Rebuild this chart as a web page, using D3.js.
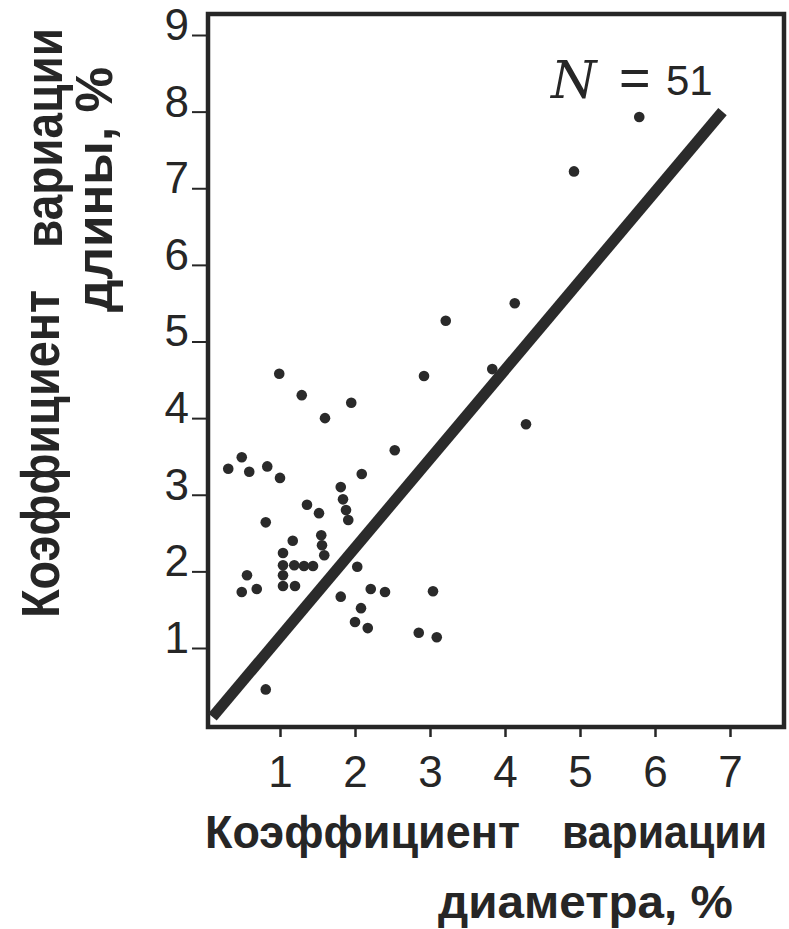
<!DOCTYPE html>
<html>
<head>
  <meta charset="utf-8">
  <script src="https://d3js.org/d3.v7.min.js"></script>
  <style>
    body { margin: 0; background: #fff; }
  </style>
</head>
<body>
  <div id="chart"></div>
  <script>
  // data: CV of diameter (x) vs CV of length (y), %
  var cvDiameter = [5.79, 4.92, 4.13, 3.21, 2.92, 3.83, 4.28, 0.99, 1.29, 1.60,
                    1.95, 2.53, 0.49, 0.31, 0.59, 0.83, 1.00, 2.09, 1.81, 1.84,
                    1.88, 1.91, 1.36, 1.52, 0.81, 1.17, 1.55, 1.56, 1.59, 1.04,
                    1.04, 1.19, 1.32, 1.44, 1.04, 1.04, 1.20, 0.56, 0.49, 0.69,
                    2.03, 2.21, 2.40, 3.04, 1.81, 2.08, 2.00, 2.17, 2.85, 3.09,
                    0.81];
  var cvLength   = [7.93, 7.22, 5.50, 5.27, 4.55, 4.64, 3.92, 4.58, 4.30, 4.00,
                    4.20, 3.58, 3.49, 3.34, 3.30, 3.37, 3.22, 3.27, 3.10, 2.94,
                    2.80, 2.67, 2.87, 2.76, 2.64, 2.40, 2.47, 2.34, 2.21, 2.24,
                    2.08, 2.08, 2.07, 2.07, 1.95, 1.81, 1.81, 1.95, 1.73, 1.77,
                    2.06, 1.77, 1.73, 1.74, 1.67, 1.52, 1.34, 1.26, 1.20, 1.14,
                    0.46];
  var lineX = [0.1, 6.9];
  var lineY = [0.1, 8.0];
  var xTicks = [1, 2, 3, 4, 5, 6, 7];
  var yTicks = [1, 2, 3, 4, 5, 6, 7, 8, 9];

  var width = 789, height = 929;
  var frame = {left: 208, right: 784, top: 14, bottom: 727};

  var svg = d3.select("#chart")
    .append("svg")
      .attr("width", width)
      .attr("height", height);

  var x = d3.scaleLinear().domain([1, 7]).range([280, 730]);
  var y = d3.scaleLinear().domain([1, 9]).range([648, 35]);

  var ink = "#262626";
  var numFont = "Liberation Sans, Arial, sans-serif";

  // y axis ticks
  var yAxis = svg.append("g")
    .attr("transform", "translate(" + frame.left + ",0)")
    .call(d3.axisLeft(y).tickValues(yTicks).tickSize(16).tickPadding(3).tickFormat(d3.format("d")));
  yAxis.select(".domain").remove();
  yAxis.selectAll("line").attr("stroke", ink).attr("stroke-width", 2);
  yAxis.selectAll("text")
    .attr("fill", ink)
    .attr("dy", "0.1em")
    .style("font-family", numFont)
    .style("font-size", "44px");

  // x axis ticks
  var xAxis = svg.append("g")
    .attr("transform", "translate(0," + frame.bottom + ")")
    .call(d3.axisBottom(x).tickValues(xTicks).tickSize(10).tickPadding(19).tickFormat(d3.format("d")));
  xAxis.select(".domain").remove();
  xAxis.selectAll("line").attr("stroke", ink).attr("stroke-width", 2.5);
  xAxis.selectAll("text")
    .attr("fill", ink)
    .style("font-family", numFont)
    .style("font-size", "44px");

  // frame
  svg.append("rect")
    .attr("x", frame.left)
    .attr("y", frame.top)
    .attr("width", frame.right - frame.left)
    .attr("height", frame.bottom - frame.top)
    .attr("fill", "none")
    .attr("stroke", ink)
    .attr("stroke-width", 4.5);

  // regression line
  svg.append("line")
    .attr("x1", x(lineX[0]))
    .attr("y1", y(lineY[0]))
    .attr("x2", x(lineX[1]))
    .attr("y2", y(lineY[1]))
    .attr("stroke", "#2b2b2b")
    .attr("stroke-width", 11);

  // points
  svg.append("g")
    .selectAll("circle")
    .data(d3.range(cvDiameter.length))
    .enter()
    .append("circle")
      .attr("cx", function(i) { return x(cvDiameter[i]); })
      .attr("cy", function(i) { return y(cvLength[i]); })
      .attr("r", 5.3)
      .attr("fill", "#2a2a2a");

  // N = 51
  svg.append("text")
    .attr("x", 551)
    .attr("y", 98)
    .style("font-family", "DejaVu Serif, serif")
    .style("font-style", "italic")
    .style("font-size", "52px")
    .attr("fill", ink)
    .text("N");
  svg.append("text")
    .attr("x", 619)
    .attr("y", 96)
    .style("font-family", numFont)
    .style("font-size", "54px")
    .attr("fill", ink)
    .text("=");
  svg.append("text")
    .attr("x", 666)
    .attr("y", 95)
    .style("font-family", numFont)
    .style("font-size", "42px")
    .attr("fill", ink)
    .text("51");

  var titleFont = "Liberation Sans, Arial, sans-serif";

  // bold title squeezed horizontally to the measured length
  function title(txt, tx, ty, len, size, rot) {
    var t = svg.append("text")
      .style("font-family", titleFont).style("font-weight", "bold").style("font-size", size + "px")
      .attr("fill", ink)
      .text(txt);
    var k = len / t.node().getComputedTextLength();
    t.attr("transform", "translate(" + tx + "," + ty + ")" + (rot ? " rotate(-90)" : "") +
                        " scale(" + k + ",1)");
  }

  // x axis title
  title("Коэффициент", 205, 848, 315, 47, false);
  title("вариации", 562, 848, 205, 47, false);
  title("диаметра, %", 438, 918, 295, 47, false);

  // y axis title
  title("Коэффициент", 59, 618, 328, 54, true);
  title("вариации", 62, 248, 220, 54, true);
  title("длины, %", 112, 312, 245, 52, true);
  </script>
</body>
</html>
